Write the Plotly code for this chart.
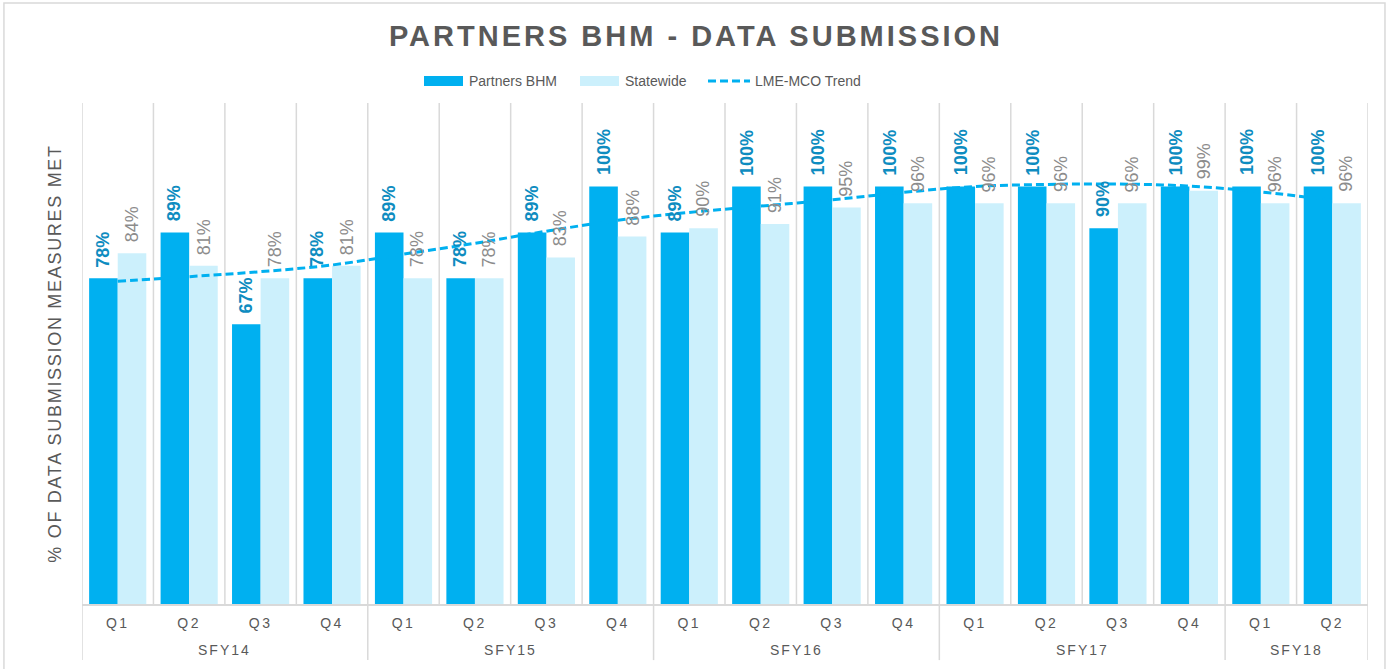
import plotly.graph_objects as go

# ---- data ----
years = ["SFY14", "SFY15", "SFY16", "SFY17", "SFY18"]
quarters_per_year = [4, 4, 4, 4, 2]
quarter_labels = ["Q1", "Q2", "Q3", "Q4", "Q1", "Q2", "Q3", "Q4", "Q1", "Q2", "Q3", "Q4",
                  "Q1", "Q2", "Q3", "Q4", "Q1", "Q2"]
partners = [78, 89, 67, 78, 89, 78, 89, 100, 89, 100, 100, 100, 100, 100, 90, 100, 100, 100]
statewide = [84, 81, 78, 81, 78, 78, 83, 88, 90, 91, 95, 96, 96, 96, 96, 99, 96, 96]
trend = [77.3, 78.4, 79.6, 81.2, 83.8, 86.4, 89.3, 91.9, 93.8, 95.3, 96.8, 98.6,
         100.0, 100.5, 100.6, 100.1, 98.7, 96.7]
series_names = ["Partners BHM", "Statewide", "LME-MCO Trend"]

x = list(range(len(quarter_labels)))

BLUE = "#00B0F0"
LIGHT = "#CCF0FC"
GRID = "#D9D9D9"
TXT = "#595959"
LBL_BLUE = "#0E8CC0"
LBL_GRAY = "#8C8C8C"
FONT = "Liberation Sans, Arial, sans-serif"

BARGAP = 0.2
half = (1 - BARGAP) / 4  # offset of each bar centre from category centre

fig = go.Figure()
fig.add_trace(go.Bar(x=x, y=partners, name=series_names[0], showlegend=False,
                     marker=dict(color=BLUE, line=dict(width=0))))
fig.add_trace(go.Bar(x=x, y=statewide, name=series_names[1], showlegend=False,
                     marker=dict(color=LIGHT, line=dict(width=0))))
fig.add_trace(go.Scatter(x=x, y=trend, name=series_names[2], mode="lines", showlegend=False,
                         line=dict(color=BLUE, width=3, dash="8px,4px", shape="spline")))

annotations = []
for i, v in zip(x, partners):
    annotations.append(dict(x=i - half, y=v, xref="x", yref="y", text=f"<b>{v}%</b>",
                            textangle=-90, showarrow=False, xanchor="center", yanchor="bottom",
                            yshift=9, font=dict(family=FONT, size=18, color=LBL_BLUE)))
for i, v in zip(x, statewide):
    annotations.append(dict(x=i + half, y=v, xref="x", yref="y", text=f"{v}%",
                            textangle=-90, showarrow=False, xanchor="center", yanchor="bottom",
                            yshift=9, font=dict(family=FONT, size=18, color=LBL_GRAY)))

shapes = []
# vertical category gridlines
for i in range(len(x) + 1):
    shapes.append(dict(type="line", xref="x", yref="paper", x0=i - 0.5, x1=i - 0.5,
                       y0=0, y1=1, line=dict(color=GRID, width=1.5), layer="below"))
# group separators in the label area + year labels
bounds = [0]
for n in quarters_per_year:
    bounds.append(bounds[-1] + n)
for b in bounds:
    shapes.append(dict(type="line", xref="x", yref="paper", x0=b - 0.5, x1=b - 0.5,
                       y0=-0.112, y1=0, line=dict(color=GRID, width=1.5)))
for yi, yr in enumerate(years):
    c = (bounds[yi] + bounds[yi + 1] - 1) / 2
    annotations.append(dict(x=c, y=-0.092, xref="x", yref="paper", text=yr, showarrow=False,
                            font=dict(family=FONT, size=14, color=TXT), yanchor="middle"))
# outer frame
shapes.append(dict(type="rect", xref="paper", yref="paper", x0=-0.0607, x1=1.0132,
                   y0=-0.14, y1=1.1996, line=dict(color=GRID, width=1.5)))


# custom legend (wide swatches like the original)
def px(v):
    return (v - 82) / 1286


def py(v):
    return (604 - v) / 501


leg_y = 81
shapes.append(dict(type="rect", xref="paper", yref="paper", x0=px(424), x1=px(463),
                   y0=py(leg_y + 5), y1=py(leg_y - 5), fillcolor=BLUE, line=dict(width=0)))
shapes.append(dict(type="rect", xref="paper", yref="paper", x0=px(580), x1=px(619),
                   y0=py(leg_y + 5), y1=py(leg_y - 5), fillcolor=LIGHT, line=dict(width=0)))
shapes.append(dict(type="line", xref="paper", yref="paper", x0=px(708), x1=px(750),
                   y0=py(leg_y), y1=py(leg_y), line=dict(color=BLUE, width=3, dash="8px,4px")))
for name, xs in zip(series_names, [467, 623, 753]):
    annotations.append(dict(x=px(xs), y=py(leg_y), xref="paper", yref="paper", text=name,
                            showarrow=False, xanchor="left", yanchor="middle",
                            font=dict(family=FONT, size=14, color=TXT)))

fig.update_layout(
    width=1392, height=669,
    margin=dict(l=82, r=24, t=103, b=65),
    paper_bgcolor="white", plot_bgcolor="white",
    title=dict(text="<b>PARTNERS BHM - DATA SUBMISSION</b>", x=0.5, xanchor="center",
               y=1 - 36 / 669, yanchor="middle",
               font=dict(family=FONT, size=29, color=TXT)),
    barmode="group", bargap=BARGAP, bargroupgap=0,
    showlegend=False,
    xaxis=dict(range=[-0.5, len(x) - 0.5], tickmode="array", tickvals=x, ticktext=quarter_labels,
               showgrid=False, zeroline=False, showline=True, linecolor=GRID, linewidth=2,
               ticks="", tickfont=dict(family=FONT, size=14, color=TXT), ticklabelstandoff=5),
    yaxis=dict(range=[0, 120], showgrid=False, zeroline=False, showticklabels=False,
               title=dict(text="% OF DATA SUBMISSION MEASURES MET", standoff=14,
                          font=dict(family=FONT, size=18, color=TXT))),
    shapes=shapes, annotations=annotations,
)

post = """
document.body.style.margin = '0';
var gd = document.getElementById('{plot_id}');
function spacing() {
  gd.querySelectorAll('.gtitle').forEach(function (e) { e.style.letterSpacing = '3px'; });
  gd.querySelectorAll('.xtick text').forEach(function (e) { e.style.letterSpacing = '2.5px'; });
  gd.querySelectorAll('.ytitle').forEach(function (e) { e.style.letterSpacing = '1.7px'; });
  gd.querySelectorAll('.annotation-text').forEach(function (e) {
    var t = e.textContent;
    if (t.indexOf('SFY') === 0) { e.style.letterSpacing = '2px'; }
  });
}
spacing();
if (gd.on) { gd.on('plotly_afterplot', spacing); }
setTimeout(spacing, 50);
"""

fig.write_html("out.html", post_script=post, config={"displayModeBar": False})
